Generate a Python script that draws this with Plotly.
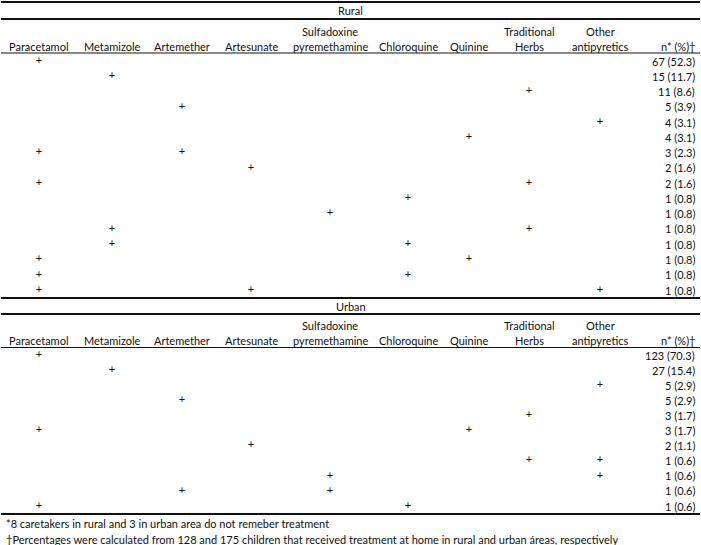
import plotly.graph_objects as go

# ---------------- data ----------------
header_top = ["", "", "", "", "Sulfadoxine", "", "", "Traditional", "Other"]
header_bottom = ["Paracetamol", "Metamizole", "Artemether", "Artesunate",
                 "pyremethamine", "Chloroquine", "Quinine", "Herbs", "antipyretics"]
count_header = "n* (%)†"

section_titles = ["Rural", "Urban"]

# each row: indices of the treatments marked with "+"
rural_combos = [[0], [1], [7], [2], [8], [6], [0, 2], [3], [0, 7], [5], [4],
                [1, 7], [1, 5], [0, 6], [0, 5], [0, 3, 8]]
rural_n = [67, 15, 11, 5, 4, 4, 3, 2, 2, 1, 1, 1, 1, 1, 1, 1]
rural_pct = [52.3, 11.7, 8.6, 3.9, 3.1, 3.1, 2.3, 1.6, 1.6, 0.8, 0.8, 0.8, 0.8, 0.8, 0.8, 0.8]

urban_combos = [[0], [1], [8], [2], [7], [0, 6], [3], [7, 8], [4, 8], [2, 4], [0, 5]]
urban_n = [123, 27, 5, 5, 3, 3, 2, 1, 1, 1, 1]
urban_pct = [70.3, 15.4, 2.9, 2.9, 1.7, 1.7, 1.1, 0.6, 0.6, 0.6, 0.6]

footnotes = [
    "*8 caretakers in rural and 3 in urban area do not remeber treatment",
    "†Percentages were calculated from 128 and 175 children that received treatment at home in rural and urban áreas, respectively",
]

# ---------------- layout constants ----------------
W, H = 701, 545
FONT = "Lato, 'Open Sans', sans-serif"
FS = 11
INK = "#111111"
col_x = [39, 112, 182, 251, 330, 408, 469, 529, 600]
n_right = 697
t_left, t_right = 1, 700

sections = [
    dict(title=section_titles[0], combos=rural_combos, n=rural_n, pct=rural_pct,
         top=2, title_y=10.5, mid=19, h1=31, h2=46, thin=53, row0=61, dy=15.27),
    dict(title=section_titles[1], combos=urban_combos, n=urban_n, pct=urban_pct,
         top=298, title_y=306, mid=314, h1=325.5, h2=340.5, thin=347.5, row0=355, dy=15.1),
]
bottom_line = 514
foot_y = [523, 539]

fig = go.Figure()
shapes = []
annotations = []


def hline(y, w):
    shapes.append(dict(type="line", xref="x", yref="y", x0=t_left, x1=t_right,
                       y0=y, y1=y, line=dict(color=INK, width=w)))


def text(x, y, s, anchor="center"):
    annotations.append(dict(xref="x", yref="y", x=x, y=y, text=s, showarrow=False,
                            xanchor=anchor, yanchor="middle",
                            font=dict(family=FONT, size=FS, color=INK)))


for sec in sections:
    hline(sec["top"], 2)
    hline(sec["mid"], 2)
    hline(sec["thin"], 1)
    text((t_left + t_right) / 2, sec["title_y"], sec["title"])
    for cx, t1, t2 in zip(col_x, header_top, header_bottom):
        if t1:
            text(cx, sec["h1"], t1)
        text(cx, sec["h2"], t2)
    text(n_right, sec["h2"], count_header, anchor="right")

    px, py = [], []
    for i, (combo, n, p) in enumerate(zip(sec["combos"], sec["n"], sec["pct"])):
        y = sec["row0"] + i * sec["dy"]
        for c in combo:
            px.append(col_x[c])
            py.append(y)
        text(n_right, y, f"{n} ({p:.1f})", anchor="right")
    fig.add_trace(go.Scatter(x=px, y=py, mode="text", text=["+"] * len(px),
                             textposition="middle center",
                             textfont=dict(family=FONT, size=FS, color=INK),
                             hoverinfo="skip", showlegend=False))

hline(bottom_line, 2)
for fy, s in zip(foot_y, footnotes):
    text(4, fy, s, anchor="left")

fig.update_layout(
    width=W, height=H,
    margin=dict(l=0, r=0, t=0, b=0),
    paper_bgcolor="white", plot_bgcolor="white",
    xaxis=dict(range=[0, W], visible=False, fixedrange=True),
    yaxis=dict(range=[H, 0], visible=False, fixedrange=True),
    shapes=shapes, annotations=annotations,
    showlegend=False,
)

fig.write_html("out.html", config={"displayModeBar": False},
               post_script="document.body.style.margin='0';document.body.style.overflow='hidden';")
